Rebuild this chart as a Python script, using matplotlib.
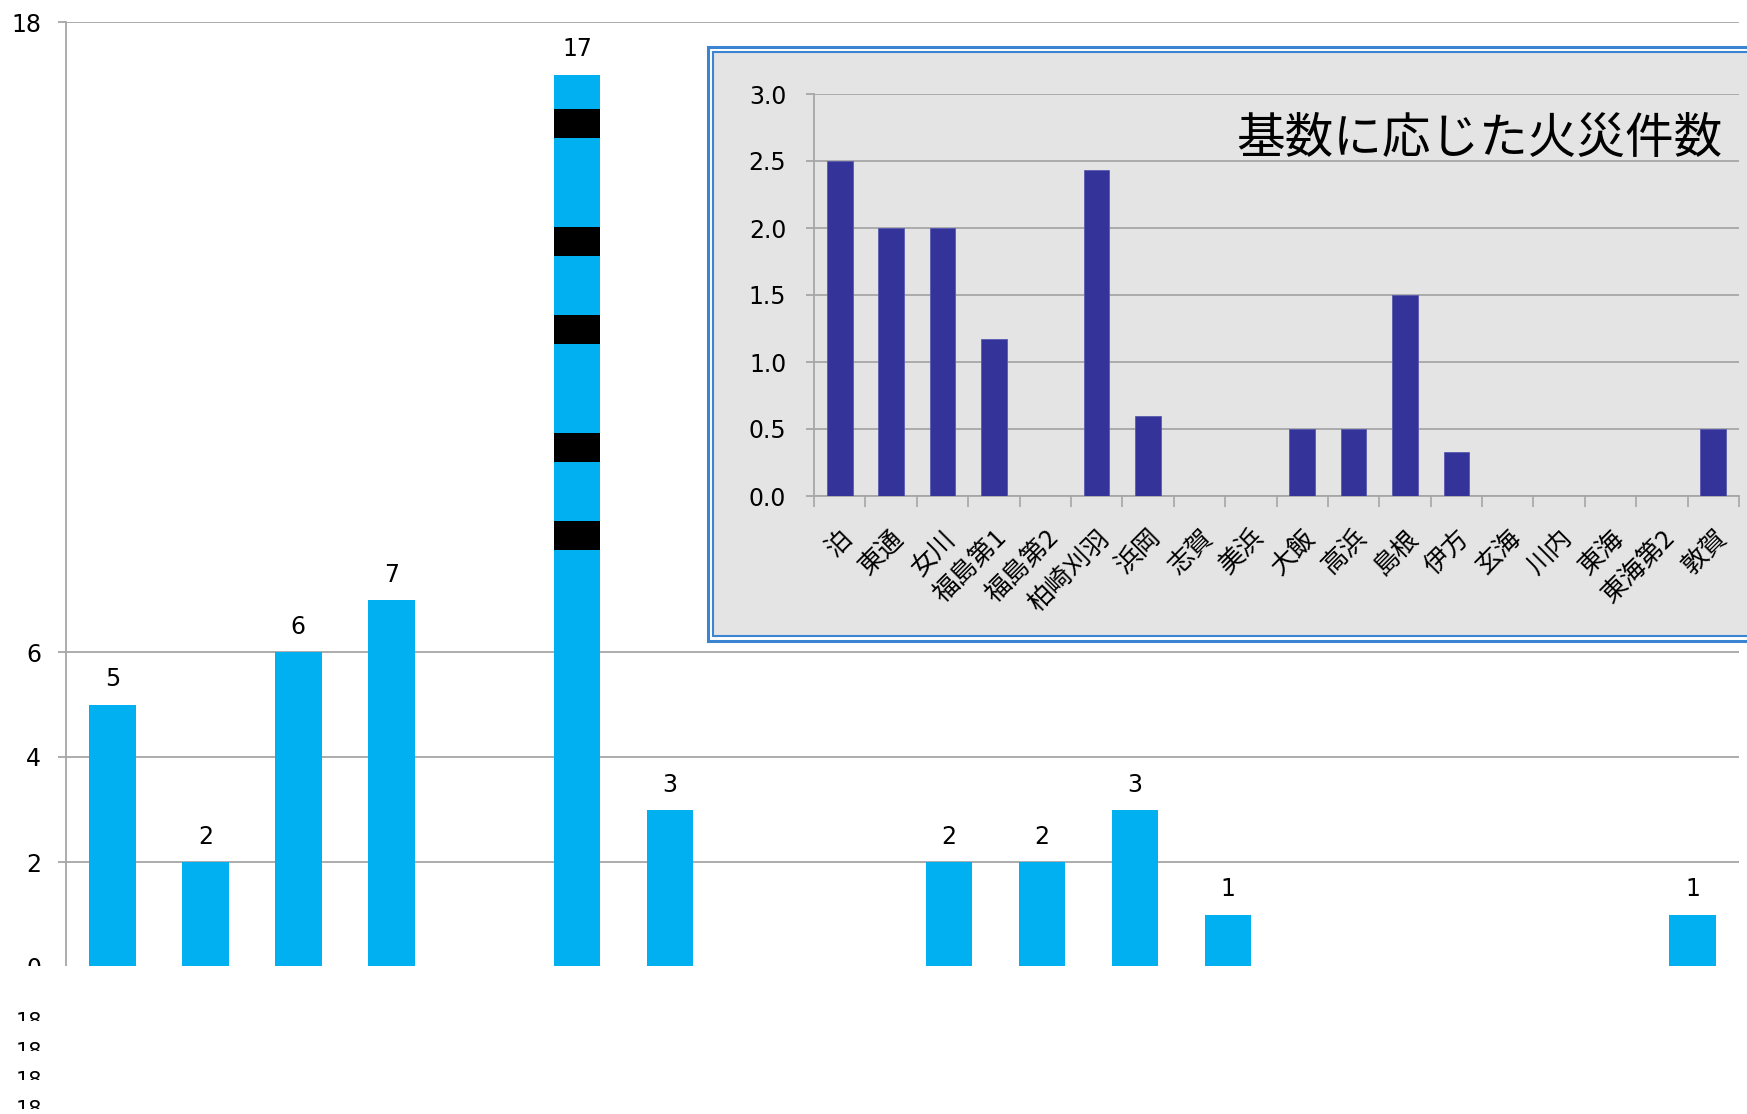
import matplotlib
matplotlib.use("Agg")
import matplotlib.pyplot as plt
from matplotlib.patches import Rectangle
from matplotlib.transforms import Bbox
import numpy as np

W, H = 1747, 1114

plants = ['泊', '東通', '女川', '福島第1', '福島第2', '柏崎刈羽', '浜岡', '志賀', '美浜',
          '大飯', '高浜', '島根', '伊方', '玄海', '川内', '東海', '東海第2', '敦賀']
fires = [5, 2, 6, 7, 0, 17, 3, 0, 0, 2, 2, 3, 1, 0, 0, 0, 0, 1]
per_unit = [2.5, 2.0, 2.0, 1.17, 0, 2.43, 0.6, 0, 0, 0.5, 0.5, 1.5, 0.33, 0, 0, 0, 0, 0.5]

# dark bands across the tallest bar
band_lo = [7.94, 9.62, 11.87, 13.54, 15.79]
band_hi = [8.50, 10.17, 12.42, 14.10, 16.34]
band_plant = '柏崎刈羽'

main_ticks = [0, 2, 4, 6, 18]
inset_ticks = [0.0, 0.5, 1.0, 1.5, 2.0, 2.5, 3.0]
inset_title = '基数に応じた火災件数'

jp = ['Noto Sans CJK JP', 'DejaVu Sans']
grid_c = '#A6A6A6'
cyan = '#00B0F0'
navy = '#333399'
frame_blue = '#3A84D2'

fig = plt.figure(figsize=(W / 100, H / 100), dpi=100)

# ---- main chart
ax = fig.add_axes([66 / W, (H - 967) / H, (1739 - 66) / W, (967 - 22) / H])
x = np.arange(len(plants))
ax.bar(x, fires, width=0.5, color=cyan, zorder=3)
k = plants.index(band_plant)
ax.bar([k] * len(band_lo), np.array(band_hi) - np.array(band_lo), bottom=band_lo,
       width=0.5, color='black', zorder=4)
for xi, v in zip(x, fires):
    if v > 0:
        ax.annotate(str(v), (xi, v), xytext=(0, 18), textcoords='offset points',
                    ha='center', va='center', fontsize=17, color='black')
ax.set_xlim(-0.5, len(plants) - 0.5)
ax.set_ylim(0, 18)
ax.set_yticks(main_ticks)
ax.set_yticklabels([str(t) for t in main_ticks], fontsize=17)
ax.set_xticks([])
ax.yaxis.grid(True, color=grid_c, lw=1.3)
ax.set_axisbelow(True)
for s in ['top', 'right', 'bottom']:
    ax.spines[s].set_visible(False)
ax.spines['left'].set_color(grid_c)
ax.spines['left'].set_linewidth(1.3)
ax.tick_params(axis='y', length=6, width=1.3, color=grid_c, pad=12)

# ---- boxed inset
outer = Rectangle((708 / W, (H - 641) / H), 1100 / W, 594 / H, transform=fig.transFigure,
                  facecolor='white', edgecolor=frame_blue, lw=2.2, zorder=2)
inner = Rectangle((713 / W, (H - 636) / H), 1100 / W, 584 / H, transform=fig.transFigure,
                  facecolor='#E4E4E4', edgecolor=frame_blue, lw=1.5, zorder=2)
fig.patches.extend([outer, inner])

ia = fig.add_axes([814 / W, (H - 496) / H, (1739 - 814) / W, (496 - 94) / H], zorder=3)
ia.patch.set_alpha(0)
ia.bar(x, per_unit, width=0.5, color=navy, edgecolor='#5A5AB0', lw=0.6, zorder=3)
ia.set_xlim(-0.5, len(plants) - 0.5)
ia.set_ylim(0, 3.0)
ia.set_yticks(inset_ticks)
ia.set_yticklabels([f'{t:.1f}' for t in inset_ticks], fontsize=17)
ia.yaxis.grid(True, color=grid_c, lw=1.3)
ia.set_axisbelow(True)
ia.set_xticks(np.arange(len(plants) + 1) - 0.5, minor=False)
ia.set_xticklabels([])
ia.set_xticks(x, minor=True)
ia.set_xticklabels(plants, minor=True, rotation=45, ha='right', va='top',
                   rotation_mode='anchor', fontsize=18.5, family=jp)
for lbl in ia.get_xticklabels(minor=True):
    lbl.set_x(lbl.get_position()[0] - 0.12)
ia.tick_params(axis='x', which='major', length=8, width=1.2, color=grid_c)
ia.tick_params(axis='x', which='minor', length=0, pad=21)
ia.tick_params(axis='y', length=6, width=1.3, color=grid_c, pad=14)
for s in ['top', 'right']:
    ia.spines[s].set_visible(False)
for s in ['left', 'bottom']:
    ia.spines[s].set_color(grid_c)
    ia.spines[s].set_linewidth(1.3)
fig.text(1722 / W, (H - 139) / H, inset_title, ha='right', va='center',
         fontsize=35, family=jp, zorder=5)

# ---- cut-off strip under the plot
fig.patches.append(Rectangle((0, 0), 1, (H - 966) / H, transform=fig.transFigure,
                             facecolor='white', edgecolor='none', zorder=6))
for yp in [1022, 1052, 1081, 1110]:
    t = fig.text(29 / W, (H - yp) / H, '18', ha='center', va='center', fontsize=15,
                 zorder=7)
    # only the upper half of each label shows
    t.set_clip_box(Bbox([[0, H - yp + 1], [80, H - yp + 14]]))
    t.set_clip_on(True)

fig.savefig('out.png', dpi=100)
